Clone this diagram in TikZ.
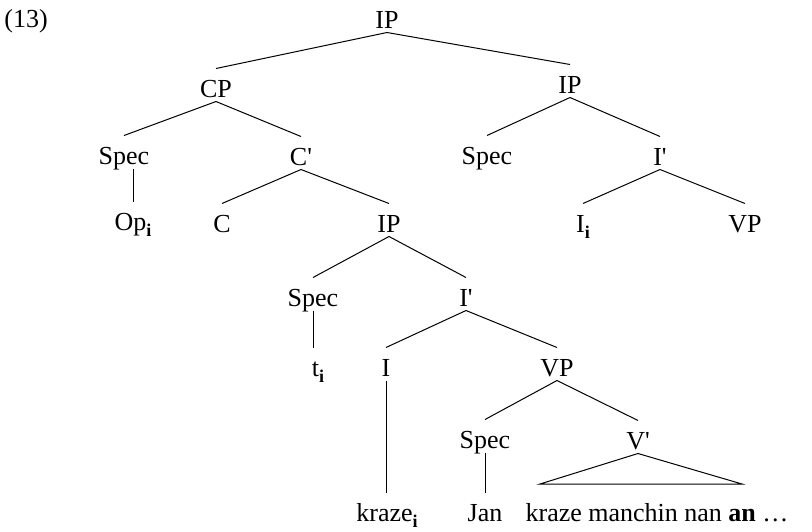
\documentclass[tikz,border=0pt]{standalone}
\usepackage{fontspec}
\setmainfont{Liberation Serif}
\newcommand{\prm}{\textquotesingle}
\newcommand{\idx}{\raisebox{-6pt}{\fontsize{18}{18}\selectfont\bfseries i}}
\tikzset{
    every node/.style={inner sep=0mm, anchor=base, text height=28pt, text depth=4pt,
        font=\fontsize{26}{30}\selectfont}
}

\begin{document}
\begin{tikzpicture}[x=1pt, y=-1pt, line width=1pt]
    \useasboundingbox (0,0) rectangle (812,531);

    \node (ex) at (26,27) {(13)};

    \node (ip) at (387,28) {IP};
    \node (cp) at (216,97) {CP};
    \node (ipb) at (570,93) {IP};

    \draw (ip.south) edge (cp.north);
    \draw (ip.south) edge (ipb.north);

    \node (spa) at (124,164) {Spec};
    \node (cbar) at (301,165) {C\prm};
    \node (opi) at (133,230) {Op\idx};
    \node (c) at (222,232) {C};
    \node (ipc) at (389,232) {IP};

    \draw (cp.south) edge (spa.north);
    \draw (cp.south) edge (cbar.north);
    \draw (opi.north |- spa.south) edge (opi.north);
    \draw (cbar.south) edge (c.north);
    \draw (cbar.south) edge (ipc.north);

    \node (spb) at (487,164) {Spec};
    \node (ibarb) at (660,165) {I\prm};
    \node (ii) at (583,232) {I\idx};
    \node (vpb) at (745,232) {VP};

    \draw (ipb.south) edge (spb.north);
    \draw (ipb.south) edge (ibarb.north);
    \draw (ibarb.south) edge (ii.north);
    \draw (ibarb.south) edge (vpb.north);

    \node (spc) at (313,306) {Spec};
    \node (ibarc) at (466,306) {I\prm};
    \node (ti) at (318,376) {t\idx};
    \node (infl) at (386,376) {I};
    \node (vpc) at (557,376) {VP};

    \draw (ipc.south) edge (spc.north);
    \draw (ipc.south) edge (ibarc.north);
    \draw (spc.south) edge (spc.south |- ti.north);
    \draw (ibarc.south) edge (infl.north);
    \draw (ibarc.south) edge (vpc.north);

    \node (spd) at (485,448) {Spec};
    \node (vbar) at (638,449) {V\prm};
    \node (kraze) at (387,521) {kraze\idx};
    \node (jan) at (485,521) {Jan};
    \node (rest) at (657,521) {kraze manchin nan \textbf{an} \dots};

    \draw (vpc.south) edge (spd.north);
    \draw (vpc.south) edge (vbar.north);
    \draw (infl.south) edge (infl.south |- kraze.north);
    \draw (spd.south) edge (jan.north);

    \coordinate (tl) at (540,484);
    \coordinate (tr) at (742,484);
    \draw (vbar.south) -- (tr) -- (tl) -- cycle;
\end{tikzpicture}
\end{document}
